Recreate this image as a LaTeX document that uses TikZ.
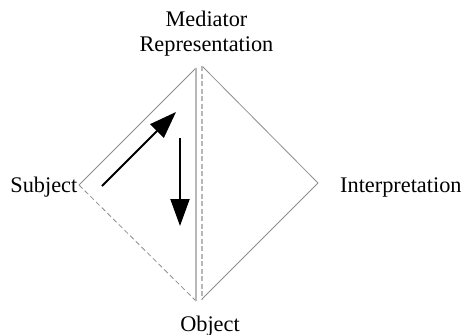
\documentclass[tikz,border=0pt]{standalone}
\usepackage{fontspec}
\setmainfont{Liberation Serif}
\usetikzlibrary{arrows.meta}
\definecolor{edgegray}{HTML}{8E8E8E}
\definecolor{axisgray}{HTML}{B8B8B8}
\definecolor{darkline}{HTML}{000000}
\tikzset{
  edge/.style={draw=edgegray, line width=0.8pt},
  dashedge/.style={edge, dashed, dash pattern=on 5pt off 3pt},
  axis/.style={draw=axisgray, line width=1.5pt},
  axisdash/.style={axis, dash pattern=on 5pt off 2.5pt},
  term/.style={font=\fontsize{22.3}{25}\selectfont, align=center, inner sep=0pt},
  move/.style={-{Triangle[length=27pt, width=19pt]}, line width=2pt, draw=darkline}
}

\begin{document}
\begin{tikzpicture}[x=1pt, y=-1pt]
\useasboundingbox (0,0) rectangle (464,335);

% Vertices of the two triangles.
\coordinate (subj) at (79,185);
\coordinate (ltop) at (196,68);
\coordinate (lbot) at (196,301);
\coordinate (rtop) at (202,66);
\coordinate (interp) at (318,183);
\coordinate (rbot) at (202,299);

% Labels.
\node[term, anchor=south] (mediator) at (206.5,56.8) {Mediator\\Representation};
\node[term, anchor=base east] (subject) at (77.5,192.5) {Subject};
\node[term, anchor=base west] (interpretation) at (340,192) {Interpretation};
\node[term, anchor=base] (object) at (210,331) {Object};

% Left triangle.
\draw[edge] (subj) -- (ltop);
\draw[dashedge] (subj) -- (lbot);
\draw[axis] (ltop) -- (lbot);

% Right triangle.
\draw[edge] (rtop) -- (interp);
\draw[edge] (interp) -- (rbot);
\draw[axisdash] (rtop) -- (rbot);

% Movements.
\coordinate (upstart) at (102,186);
\coordinate (upend) at (176,112);
\coordinate (downstart) at (180,138);
\coordinate (downend) at (180,226);
\draw[move] (upstart) -- (upend);
\draw[move] (downstart) -- (downend);

\end{tikzpicture}
\end{document}
